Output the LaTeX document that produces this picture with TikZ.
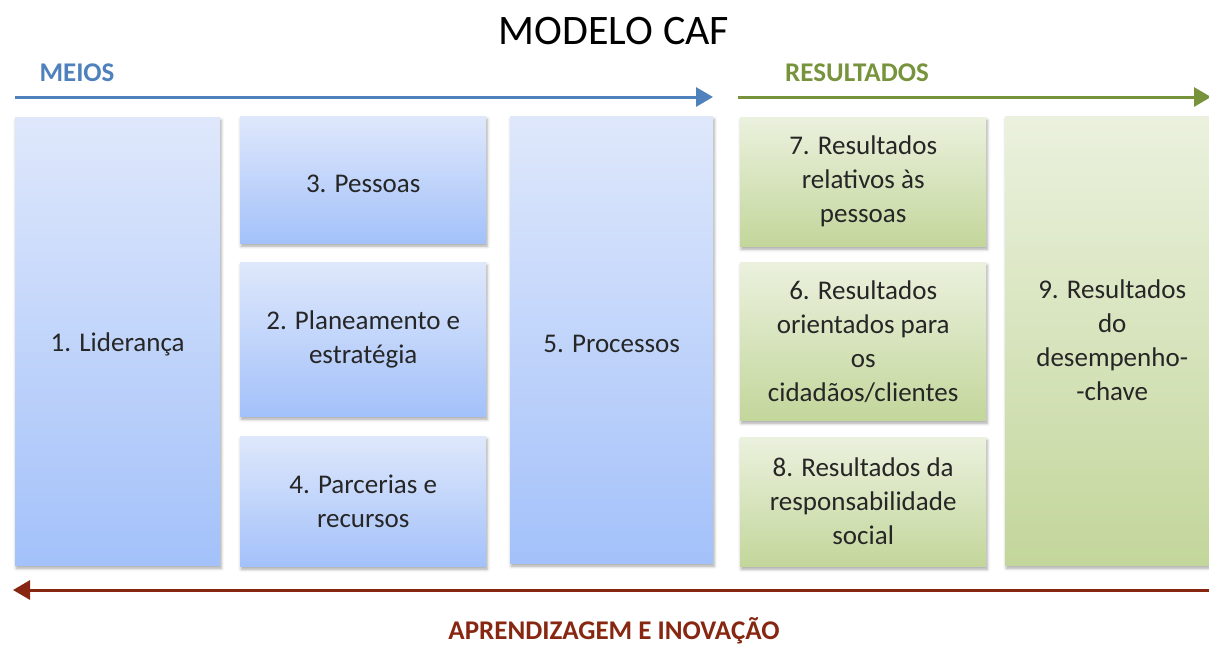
\documentclass[tikz,border=0pt]{standalone}
\usepackage{fontspec}
\setmainfont{Carlito}
\usetikzlibrary{arrows.meta,shadows.blur}

\definecolor{meiosblue}{HTML}{4F81BD}
\definecolor{resgreen}{HTML}{77933C}
\definecolor{aprendred}{HTML}{872711}
\definecolor{bluetop}{HTML}{DFE8FB}
\definecolor{bluebot}{HTML}{A3C1FA}
\definecolor{greentop}{HTML}{EBF1DE}
\definecolor{greenbot}{HTML}{C3D69B}

\tikzset{
  criterio/.style={rectangle, anchor=north west, align=center, text=black!85,
    font=\fontsize{27}{34}\selectfont, inner sep=0pt,
    execute at begin node={\rule{0pt}{25pt}},
    blur shadow={shadow xshift=1pt, shadow yshift=-3pt, shadow blur radius=3pt, shadow opacity=35}},
  meiobox/.style={criterio, top color=bluetop, bottom color=bluebot},
  resbox/.style={criterio, top color=greentop, bottom color=greenbot},
  faixa/.style={font=\bfseries\fontsize{27}{32}\selectfont, inner sep=1pt},
  seta/.style={line width=3pt, -{Triangle[length=17pt,width=19pt]}}
}

\begin{document}
\begin{tikzpicture}[x=1pt, y=-1pt]
    \useasboundingbox (0,0) rectangle (1209,646);

    % Title
    \node (titulo) at (614,31) {\fontsize{42}{50}\selectfont MODELO CAF};

    % Top labels and arrows
    \node[faixa, text=meiosblue] (meios) at (77,73) {MEIOS};
    \node[faixa, text=resgreen] (resultados) at (857,73) {RESULTADOS};
    \coordinate (m1) at (15,97);
    \coordinate (m2) at (713,97);
    \coordinate (r1) at (738,97);
    \coordinate (r2) at (1211,97);
    \draw[seta, meiosblue] (m1) -- (m2);
    \draw[seta, resgreen] (r1) -- (r2);

    % Meios
    \node[meiobox, minimum width=205pt, minimum height=448pt] (lid) at (15,117) {1. Liderança};
    \node[meiobox, minimum width=246pt, minimum height=127pt] (pes) at (240,116) {3. Pessoas};
    \node[meiobox, minimum width=246pt, minimum height=154pt] (pla) at (240,262) {2. Planeamento e\\estratégia};
    \node[meiobox, minimum width=246pt, minimum height=130pt] (par) at (240,436) {4. Parcerias e\\recursos};
    \node[meiobox, minimum width=203pt, minimum height=447pt] (pro) at (510,116) {5. Processos};

    % Resultados
    \node[resbox, minimum width=246pt, minimum height=129pt] (rpe) at (740,117) {7. Resultados\\relativos às\\pessoas};
    \node[resbox, minimum width=246pt, minimum height=158pt] (rci) at (740,262) {6. Resultados\\orientados para\\os\\cidadãos/clientes};
    \node[resbox, minimum width=246pt, minimum height=129pt] (rso) at (740,437) {8. Resultados da\\responsabilidade\\social};
    \node[resbox, minimum width=214pt, minimum height=449pt] (rde) at (1005,116) {9. Resultados\\do\\desempenho-\\-chave};

    % Bottom arrow
    \coordinate (a1) at (1212,590);
    \coordinate (a2) at (13,590);
    \draw[seta, aprendred] (a1) -- (a2);
    \node[faixa, text=aprendred] (aprend) at (614,631) {APRENDIZAGEM E INOVAÇÃO};
\end{tikzpicture}
\end{document}
